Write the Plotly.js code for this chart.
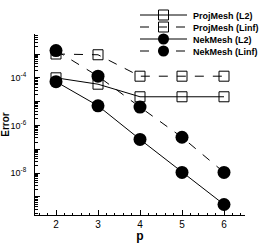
<!DOCTYPE html>
<html>
<head>
<meta charset="utf-8">
<script src="https://cdn.plot.ly/plotly-3.0.1.min.js"></script>
<style>html,body{margin:0;padding:0;background:#fff;}</style>
</head>
<body>
<div id="chart" style="width:273px;height:243px;"></div>
<script>
const p = [2, 3, 4, 5, 6];
const projL2 = [1.0e-4, 5.4e-5, 1.6e-5, 1.6e-5, 1.6e-5];
const projLinf = [1.0e-3, 9.3e-4, 1.17e-4, 1.17e-4, 1.17e-4];
const nekL2 = [6.9e-5, 6.7e-6, 2.6e-7, 1.07e-8, 4.8e-10];
const nekLinf = [1.4e-3, 1.17e-4, 5.9e-6, 3.2e-7, 1.07e-8];
const names = ["ProjMesh (L2)", "ProjMesh (Linf)", "NekMesh (L2)", "NekMesh (Linf)"];
const yTickVals = [1e-9, 1e-8, 1e-7, 1e-6, 1e-5, 1e-4, 1e-3];
const yTickText = ["", "10<sup>-8</sup>", "", "10<sup>-6</sup>", "", "10<sup>-4</sup>", ""];

const sq = {symbol: "square-open", size: 10, color: "#000", line: {width: 1, color: "#000"}};
const ci = {symbol: "circle", size: 13, color: "#000"};
const traces = [
  {x: p, y: projL2, name: names[0], mode: "lines+markers", line: {color: "#000", width: 1}, marker: sq},
  {x: p, y: projLinf, name: names[1], mode: "lines+markers", line: {color: "#000", width: 1, dash: "dash"}, marker: sq},
  {x: p, y: nekL2, name: names[2], mode: "lines+markers", line: {color: "#000", width: 1}, marker: ci},
  {x: p, y: nekLinf, name: names[3], mode: "lines+markers", line: {color: "#000", width: 1, dash: "dash"}, marker: ci}
];
const layout = {
  width: 273, height: 243,
  margin: {l: 35, r: 28, t: 25, b: 28},
  paper_bgcolor: "#fff", plot_bgcolor: "#fff",
  font: {family: "Liberation Sans, Arial, sans-serif", size: 10, color: "#000"},
  showlegend: true,
  legend: {x: 0.47, y: 1.12, xanchor: "left", yanchor: "top", bgcolor: "rgba(0,0,0,0)",
           font: {size: 9, family: "Liberation Sans, Arial, sans-serif", weight: "bold"}, tracegroupgap: 0},
  xaxis: {
    range: [1.5, 6.5], showgrid: false, zeroline: false, showline: true, linecolor: "#000", linewidth: 1,
    ticks: "inside", ticklen: 5, tickcolor: "#000", dtick: 1, tick0: 0,
    minor: {ticks: "inside", ticklen: 2.5, dtick: 0.2, tick0: 0, tickcolor: "#000", showgrid: false},
    title: {text: "p", font: {size: 12, weight: "bold"}, standoff: 0},
    tickfont: {size: 10}
  },
  yaxis: {
    type: "log", range: [-9.76, -2.16], showgrid: false, zeroline: false, showline: true, linecolor: "#000", linewidth: 1,
    ticks: "inside", ticklen: 5, tickcolor: "#000", tickmode: "array", tickvals: yTickVals, ticktext: yTickText,
    ticklabelstandoff: 6,
    minor: {ticks: "inside", ticklen: 2.5, dtick: "D1", tickcolor: "#000", showgrid: false},
    title: {text: "Error", font: {size: 10, weight: "bold"}, standoff: 2},
    tickfont: {size: 9}
  }
};
Plotly.newPlot("chart", traces, layout, {displayModeBar: false, staticPlot: true}).then(function () {
  const leg = document.querySelector(".legend");
  if (!leg) return;
  const sb = leg.querySelector(".scrollbox");
  if (sb) sb.removeAttribute("clip-path");
  leg.removeAttribute("clip-path");
  const items = leg.querySelectorAll("g.traces");
  const x0 = 140, y0 = 15, gap = 12, lineLen = 47;
  items.forEach(function (g, i) {
    const pm = g.parentNode.getCTM();
    const tx = x0 - (pm ? pm.e : 0);
    const ty = y0 + i * gap - (pm ? pm.f : 0);
    g.setAttribute("transform", "translate(" + tx + "," + ty + ")");
    g.querySelectorAll(".legendlines path").forEach(function (pa) {
      pa.setAttribute("d", "M0,0h" + lineLen);
    });
    const sc = i >= 2 ? 0.85 : 1;
    g.querySelectorAll(".legendpoints path").forEach(function (pa) {
      pa.setAttribute("transform", "translate(" + (lineLen / 2) + ",0) scale(" + sc + ")");
    });
    const t = g.querySelector("text.legendtext");
    if (t) t.setAttribute("x", lineLen + 6);
    const bg = g.querySelector("rect.legendtoggle");
    if (bg) bg.setAttribute("height", 0);
  });
});
</script>
</body>
</html>
